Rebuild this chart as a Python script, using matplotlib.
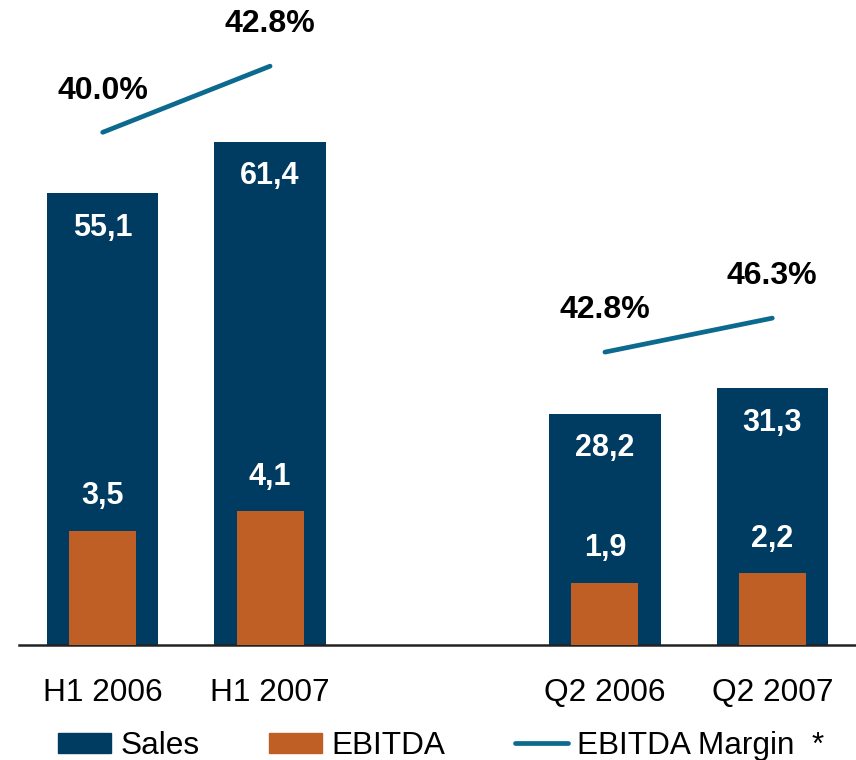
import matplotlib
matplotlib.use("Agg")
import matplotlib.pyplot as plt
from matplotlib.patches import Patch
from matplotlib.lines import Line2D

plt.rcParams['font.family'] = ['Liberation Sans', 'DejaVu Sans']

#chart data
periods = ['H1 2006', 'H1 2007', 'Q2 2006', 'Q2 2007']
sales = [55.1, 61.4, 28.2, 31.3]
ebitda = [3.5, 4.1, 1.9, 2.2]
margin = [40.0, 42.8, 42.8, 46.3]

#colours
navy = '#003B62'
orange = '#BF5F26'
teal = '#0B6A8E'

#bar slots, with an empty slot between the half-year and quarter groups
xpos = [0, 1, 3, 4]

fig = plt.figure(figsize=(8.56, 7.6), dpi=100)
ax = fig.add_axes([19/856, 115/760, 1 - 19/856, 645/760])

#sales bars on the main axis
ax.bar(xpos, sales, width=0.665, color=navy, zorder=2)
ax.set_xlim(-0.5, 4.5)
ax.set_ylim(0, 78.66)
for x, v in zip(xpos, sales):
    ax.annotate(f"{v:.1f}".replace('.', ','), (x, v), xytext=(0, -25),
                textcoords='offset points', ha='center', va='center',
                color='white', fontsize=22, fontweight='bold')

#ebitda bars on their own scale
ax2 = ax.twinx()
ax2.bar(xpos, ebitda, width=0.40, color=orange, zorder=3)
ax2.set_ylim(0, 19.8)
ax2.axis('off')
for x, v in zip(xpos, ebitda):
    ax2.annotate(f"{v:.1f}".replace('.', ','), (x, v), xytext=(0, 25),
                 textcoords='offset points', ha='center', va='center',
                 color='white', fontsize=22, fontweight='bold')

#margin lines, one small scale for each group
for sl, lim in [(slice(0, 2), (18.3, 45.6)), (slice(2, 4), (12.64, 79.06))]:
    axm = ax.twinx()
    axm.set_ylim(*lim)
    axm.axis('off')
    axm.plot(xpos[sl], margin[sl], color=teal, lw=3.4, solid_capstyle='round')
    for x, v in zip(xpos[sl], margin[sl]):
        axm.annotate(f"{v:.1f}%", (x, v), xytext=(0, 30),
                     textcoords='offset points', ha='center', va='center',
                     color='black', fontsize=23, fontweight='bold')

#axis styling
for s in ['top', 'right', 'left']:
    ax.spines[s].set_visible(False)
ax.spines['bottom'].set_color('#222222')
ax.spines['bottom'].set_linewidth(1.8)
ax.set_yticks([])
ax.set_xticks(xpos)
ax.set_xticklabels(periods, fontsize=22.8)
ax.tick_params(axis='x', length=0, pad=23.5)

#legend along the bottom
handles = [Patch(color=navy), Patch(color=orange),
           Line2D([0], [0], color=teal, lw=3.4, solid_capstyle='round')]
labels = ['Sales', 'EBITDA', 'EBITDA Margin  *']
fig.legend(handles, labels, loc='center left', bbox_to_anchor=(58/856, 14/760),
           ncol=3, frameon=False, fontsize=22.7, handlelength=1.68, handleheight=0.62,
           handletextpad=0.3, columnspacing=2.2, borderpad=0, borderaxespad=0)

fig.savefig('out.png', dpi=100)
